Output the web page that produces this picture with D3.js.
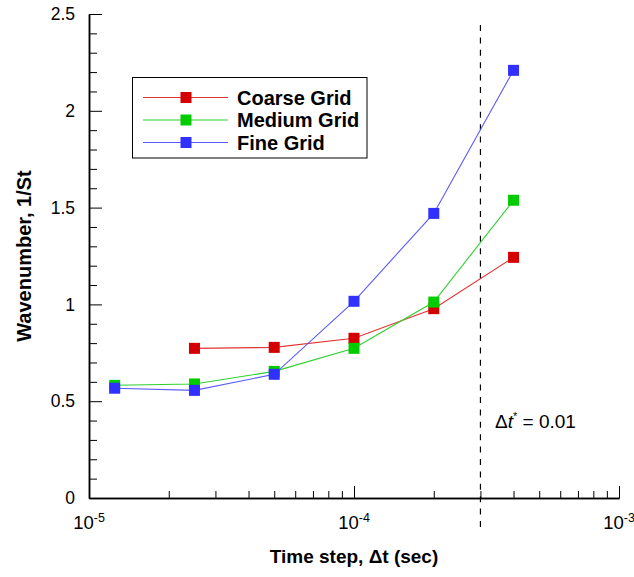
<!DOCTYPE html>
<html><head><meta charset="utf-8">
<script src="https://cdn.jsdelivr.net/npm/d3@7"></script>
<style>
body{margin:0;background:#fff;}
svg{display:block;font-family:"Liberation Sans",Arial,Helvetica,sans-serif;}
</style></head>
<body><svg id="chart" width="634" height="577"></svg>
<script>
const timeSteps = [1.25e-5, 2.5e-5, 5e-5, 1e-4, 2e-4, 4e-4];
const coarse = [null, 0.773, 0.778, 0.825, 0.978, 1.243];
const medium = [0.582, 0.589, 0.654, 0.773, 1.012, 1.538];
const fine   = [0.567, 0.556, 0.639, 1.016, 1.470, 2.209];
const seriesNames = ["Coarse Grid", "Medium Grid", "Fine Grid"];
const yMajorTicks = [0, 0.5, 1, 1.5, 2, 2.5];
const yTickLabels = ["0", "0.5", "1", "1.5", "2", "2.5"];
const xMajorTicks = [1e-5, 1e-4, 1e-3];
const xTickExponents = ["-5", "-4", "-3"];
const dtStar = 3e-4;

const lineColors = ["#e03434", "#2ed12e", "#5a5aff"];
const markColors = ["#d40000", "#00cc00", "#3030ff"];

const svg = d3.select("#chart");
const x = d3.scaleLog().domain([1e-5, 1e-3]).range([89, 619]);
const y = d3.scaleLinear().domain([0, 2.5]).range([498, 14]);

// minor ticks
const yMinor = d3.range(0, 2.51, 0.1).map(v => +v.toFixed(2)).filter(v => !yMajorTicks.includes(v));
const xMinor = [];
[1e-5, 1e-4].forEach(d => { for (let k = 2; k <= 9; k++) xMinor.push(d * k); });

const gyMinor = svg.append("g").attr("transform", "translate(89,0)")
  .call(d3.axisLeft(y).tickValues(yMinor).tickSize(-8).tickSizeOuter(0).tickFormat(""));
const gxMinor = svg.append("g").attr("transform", "translate(0,498)")
  .call(d3.axisBottom(x).tickValues(xMinor).tickSize(-7).tickSizeOuter(0).tickFormat(""));

const gy = svg.append("g").attr("transform", "translate(89,0)")
  .call(d3.axisLeft(y).tickValues(yMajorTicks).tickSize(-13).tickSizeOuter(0).tickPadding(14)
    .tickFormat((d, i) => yTickLabels[i]));
const gx = svg.append("g").attr("transform", "translate(0,498)")
  .call(d3.axisBottom(x).tickValues(xMajorTicks).tickSize(-12).tickSizeOuter(0).tickFormat(""));

[gyMinor, gxMinor, gy, gx].forEach(g => {
  g.selectAll("line").attr("stroke", "#000").attr("stroke-width", 1);
  g.select(".domain").attr("stroke", "#000").attr("stroke-width", 1.5);
});
gy.selectAll("text").attr("font-size", 17.5).attr("fill", "#000")
  .attr("font-family", "'Liberation Sans',Arial,sans-serif");

// x tick labels with superscripts
xMajorTicks.forEach((t, i) => {
  const txt = svg.append("text").attr("x", x(t)).attr("y", 529)
    .attr("text-anchor", "middle").attr("font-size", 18.5).attr("fill", "#000");
  txt.append("tspan").text("10");
  txt.append("tspan").attr("dy", -7).attr("font-size", 12.5).text(xTickExponents[i]);
});

// dashed reference line
svg.append("line").attr("x1", x(dtStar)).attr("x2", x(dtStar)).attr("y1", 25).attr("y2", 530)
  .attr("stroke", "#000").attr("stroke-width", 1.2).attr("stroke-dasharray", "6,6.4");

const lbl = svg.append("text").attr("x", 495).attr("y", 428).attr("font-size", 19).attr("fill", "#000");
lbl.append("tspan").text("\u0394");
lbl.append("tspan").attr("font-style", "italic").text("t");
lbl.append("tspan").attr("dy", -8).attr("font-size", 11).text("*");
lbl.append("tspan").attr("dy", 8).text(" = 0.01");

// series
const allSeries = [coarse, medium, fine];
allSeries.forEach((vals, si) => {
  const pts = timeSteps.map((t, i) => ({t, v: vals[i]})).filter(p => p.v !== null);
  svg.append("path").datum(pts)
    .attr("d", d3.line().x(p => x(p.t)).y(p => y(p.v)))
    .attr("fill", "none").attr("stroke", lineColors[si]).attr("stroke-width", 1.1);
  svg.append("g").selectAll("rect").data(pts).join("rect")
    .attr("x", p => x(p.t) - 5.5).attr("y", p => y(p.v) - 5.5)
    .attr("width", 11).attr("height", 11).attr("fill", markColors[si]);
});

// legend
const lg = svg.append("g");
lg.append("rect").attr("x", 132.5).attr("y", 77.5).attr("width", 234.5).attr("height", 80.5)
  .attr("fill", "#fff").attr("stroke", "#000").attr("stroke-width", 1);
const rowsY = [97.5, 120, 142.5];
seriesNames.forEach((name, si) => {
  const yy = rowsY[si];
  lg.append("line").attr("x1", 143).attr("x2", 228).attr("y1", yy).attr("y2", yy)
    .attr("stroke", lineColors[si]).attr("stroke-width", 1.1);
  lg.append("rect").attr("x", 186 - 5.5).attr("y", yy - 5.5).attr("width", 11).attr("height", 11)
    .attr("fill", markColors[si]);
  lg.append("text").attr("x", 237).attr("y", yy + 7).attr("font-size", 20).attr("font-weight", "bold")
    .attr("fill", "#000").text(name);
});

// axis titles
svg.append("text").attr("x", 354).attr("y", 563).attr("text-anchor", "middle")
  .attr("font-size", 19).attr("font-weight", "bold").attr("fill", "#000").text("Time step, \u0394t (sec)");
svg.append("text").attr("transform", "translate(31,256) rotate(-90)").attr("text-anchor", "middle")
  .attr("font-size", 20).attr("font-weight", "bold").attr("fill", "#000").text("Wavenumber, 1/St");
</script></body></html>
